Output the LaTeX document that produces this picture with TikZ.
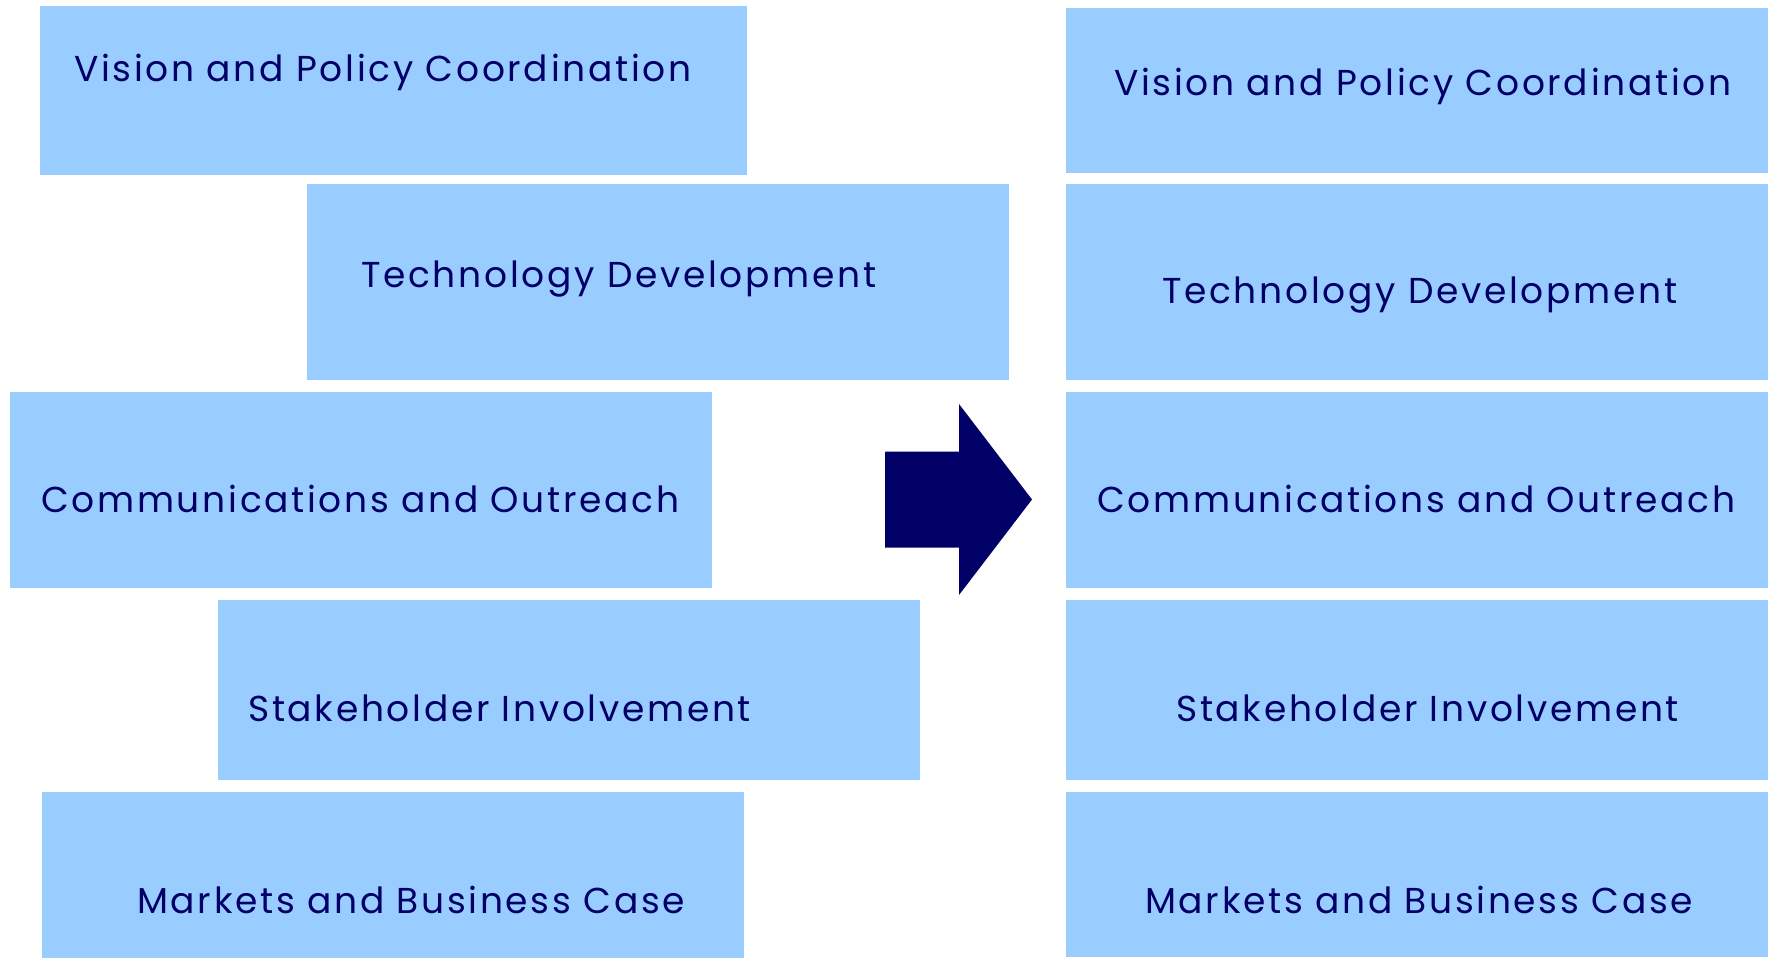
\documentclass[tikz,border=0pt]{standalone}
\usepackage{fontspec}
\usepackage{tikz}
\newfontfamily\boxfont{Poppins}[LetterSpace=7.5]
\definecolor{boxblue}{HTML}{99CCFF}
\definecolor{navy}{HTML}{000066}

\begin{document}
\begin{tikzpicture}[x=1pt,y=-1pt]
                \tikzset{box/.style = {shape=rectangle,fill=boxblue,inner sep=0pt,minimum width=702pt,anchor=north west}}
                \tikzset{boxtext/.style = {anchor=west,inner sep=0pt,text=navy,font=\boxfont\fontsize{36}{40}\selectfont}}
                \useasboundingbox (0,0) rectangle (1770,958);
                % left boxes
                \node[box, minimum height=169pt, minimum width=707pt] (l1) at (39.5,5.6) {};
                \node[box, minimum height=196pt] (l2) at (307,184) {};
                \node[box, minimum height=196pt] (l3) at (10,392) {};
                \node[box, minimum height=180pt] (l4) at (218,600) {};
                \node[box, minimum height=166pt] (l5) at (42,792) {};
                % right boxes
                \node[box, minimum height=165pt] (r1) at (1066,8) {};
                \node[box, minimum height=196pt] (r2) at (1066,184) {};
                \node[box, minimum height=196pt] (r3) at (1066,392) {};
                \node[box, minimum height=180pt] (r4) at (1066,600) {};
                \node[box, minimum height=165pt] (r5) at (1066,792) {};
                % texts
                \node[boxtext] (tl1) at (74,72.5) {Vision and Policy Coordination};
                \node[boxtext] (tl2) at (361,279.5) {Technology Development};
                \node[boxtext] (tl3) at (41,499) {Communications and Outreach};
                \node[boxtext] (tl4) at (248,708) {Stakeholder Involvement};
                \node[boxtext] (tl5) at (137,900) {Markets and Business Case};
                \node[boxtext] (tr1) at (1114,86.5) {Vision and Policy Coordination};
                \node[boxtext] (tr2) at (1162,295.5) {Technology Development};
                \node[boxtext] (tr3) at (1097,499) {Communications and Outreach};
                \node[boxtext] (tr4) at (1176,708) {Stakeholder Involvement};
                \node[boxtext] (tr5) at (1145,900) {Markets and Business Case};
                % arrow
                \fill[navy] (885,451.5) -- (959,451.5) -- (959,404) -- (1032,499.5)
                        -- (959,595) -- (959,547.5) -- (885,547.5) -- cycle;
\end{tikzpicture}
\end{document}
